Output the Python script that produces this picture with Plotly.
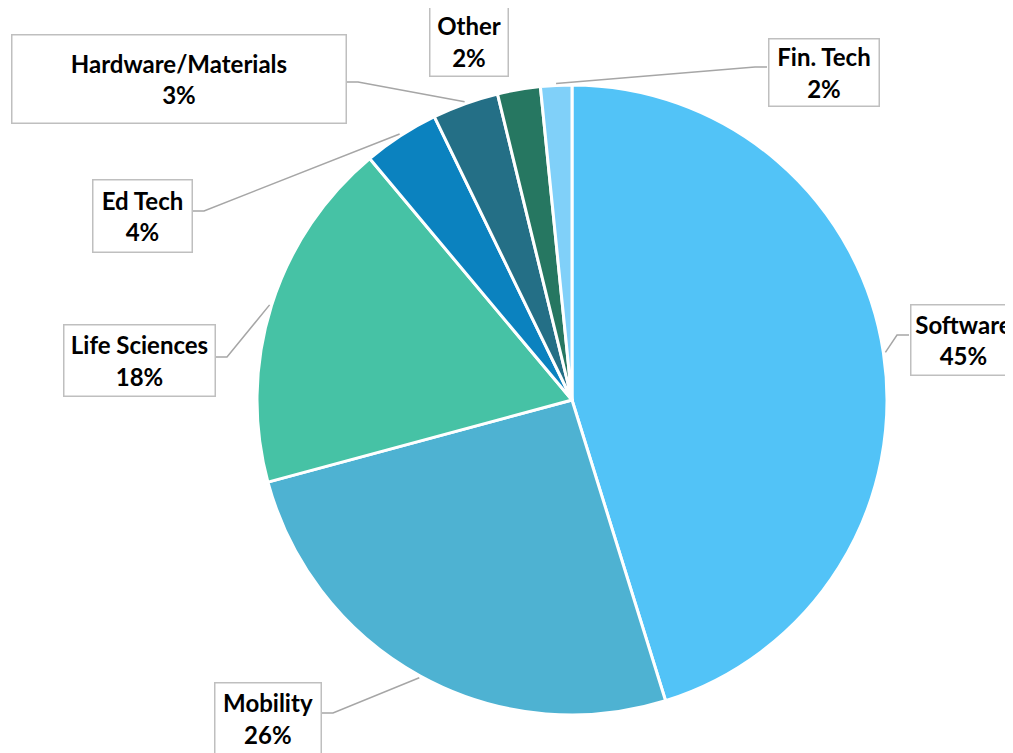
import math
import plotly.graph_objects as go

# ---- data ----
categories = ["Software", "Mobility", "Life Sciences", "Ed Tech",
              "Hardware/Materials", "Other", "Fin. Tech"]
values = [45.2, 25.6, 18.1, 3.9, 3.4, 2.2, 1.6]
colors = ["#52C3F7", "#4EB2D2", "#46C2A5", "#0B82BF",
          "#246F86", "#267761", "#80D0F9"]

# ---- layout (pixels, in reference frame) ----
OFF = 8  # page offset of the figure inside the browser window
W, H = 1013, 753
ML, MR, MT, MB = 257 - OFF, 126 + OFF, 85 - OFF, 38 + OFF
PW, PH = W - ML - MR, H - MT - MB
CX, CY = ML + PW / 2, MT + PH / 2
R = min(PW, PH) / 2

def px(x):
    return (x - OFF - ML) / PW

def py(y):
    return (H - MB - (y - OFF)) / PH

# label boxes: (x0, y0, x1, y1), attach y, side  (None = no leader)
boxes = {
    "Software": ((909, 303, 1017, 376), 335, "left"),
    "Mobility": ((213, 681, 322, 770), 713, "right"),
    "Life Sciences": ((62, 323, 216, 397), 357, "right"),
    "Ed Tech": ((91, 178, 193, 253), 211, "right"),
    "Hardware/Materials": ((10, 33, 347, 124), 82, "right"),
    "Other": ((428, 5, 509, 77), None, None),
    "Fin. Tech": ((767, 37, 880, 107), 67, "left"),
}

total = sum(values)

fig = go.Figure(go.Pie(
    labels=categories, values=values, sort=False, direction="clockwise",
    rotation=0, textinfo="none", hoverinfo="label+percent",
    marker=dict(colors=colors, line=dict(color="white", width=3)),
    domain=dict(x=[0, 1], y=[0, 1]),
))

annotations = []
shapes = []
cum = 0.0
for cat, v in zip(categories, values):
    mid = (cum + v / 2) / total
    cum += v
    ang = 2 * math.pi * mid
    ax = CX + OFF + (R + 2) * math.sin(ang)
    ay = CY + OFF - (R + 2) * math.cos(ang)
    (x0, y0, x1, y1), aty, side = boxes[cat]
    pct = round(v / total * 100)
    yc = (y0 + y1) / 2
    if cat == "Mobility":
        yc = 681 + 37
    annotations.append(dict(
        x=px((x0 + x1) / 2), y=py(yc), xref="paper", yref="paper",
        xanchor="center", yanchor="middle", showarrow=False,
        text=f"<b>{cat}</b><br><b>{pct}%</b>",
        font=dict(family="Lato, 'Open Sans', sans-serif", size=24, color="#000000"),
        align="center", valign="middle",
        width=x1 - x0 - 6, height=(y1 - y0 - 6) if cat != "Mobility" else 68,
        bordercolor="#BFBFBF", borderwidth=1.5, borderpad=1, bgcolor="white",
    ))
    if aty is not None:
        if side == "right":
            ex, bx = x1 + 11, x1
        else:
            ex, bx = x0 - 12, x0
        path = (f"M {px(ax)} {py(ay)} L {px(ex)} {py(aty)} "
                f"L {px(bx)} {py(aty)}")
        shapes.append(dict(type="path", xref="paper", yref="paper", path=path,
                           line=dict(color="#A6A6A6", width=1.5)))

fig.update_layout(
    width=W, height=H, autosize=False,
    margin=dict(l=ML, r=MR, t=MT, b=MB),
    paper_bgcolor="white", plot_bgcolor="white",
    showlegend=False, annotations=annotations, shapes=shapes,
)

fig.write_html("out.html")
